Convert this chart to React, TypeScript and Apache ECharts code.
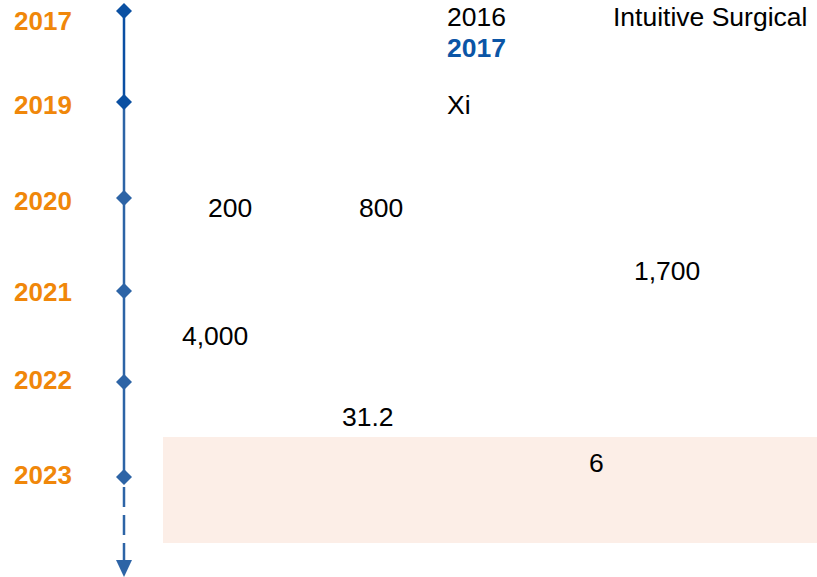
import React, { useEffect, useRef } from "react";
import * as echarts from "echarts";

// ---- data ----
const years = ["2017", "2019", "2020", "2021", "2022", "2023"];
const notes = ["2016", "2017", "Intuitive Surgical", "Xi", "200", "800", "1,700", "4,000", "31.2", "6"];
const noteHighlight = [false, true, false, false, false, false, false, false, false, false];

// ---- layout (pixel space of the 817x577 canvas) ----
const W = 817;
const H = 577;
const axisX = 124;
const rowY = [11, 102, 198, 291, 382, 477];
const yearLabelX = 14;
const yearLabelY = [21, 105, 201, 292, 380, 475];
const notePos: [number, number][] = [
  [447, 17],
  [447, 48],
  [613, 17],
  [447, 105],
  [208, 208],
  [359, 208],
  [634, 271],
  [182, 336],
  [342, 417],
  [589, 463],
];
const band = { x0: 163, x1: 817, y0: 437, y1: 543 };
const dashStart = 487;
const dashEnd = 562;
const arrowY = 568.5;

const ORANGE = "#F0870A";
const DARK_BLUE = "#0A4FA3";
const MID_BLUE = "#2D64A6";
const FONT = "Liberation Sans, Arial, sans-serif";

export default function App() {
  const ref = useRef<HTMLDivElement>(null);

  useEffect(() => {
    if (!ref.current) return;
    const chart = echarts.init(ref.current, undefined, { renderer: "svg" });
    const option: any = {
      animation: false,
      grid: { left: 0, right: 0, top: 0, bottom: 0 },
      xAxis: { type: "value", min: 0, max: W, show: false },
      yAxis: { type: "value", min: 0, max: H, inverse: true, show: false },
      series: [
        {
          type: "line",
          silent: true,
          symbol: "none",
          data: [],
          markArea: {
            silent: true,
            itemStyle: { color: "#FCEEE7", opacity: 1 },
            data: [[{ coord: [band.x0, band.y0] }, { coord: [band.x1, band.y1] }]],
          },
          z: 1,
        },
        {
          type: "line",
          symbol: "none",
          data: [
            [axisX, rowY[0]],
            [axisX, rowY[1]],
          ],
          lineStyle: { color: DARK_BLUE, width: 2.5, opacity: 1 },
          z: 2,
        },
        {
          type: "line",
          symbol: "none",
          data: [
            [axisX, rowY[1]],
            [axisX, rowY[rowY.length - 1]],
          ],
          lineStyle: { color: MID_BLUE, width: 2.5, opacity: 1 },
          z: 2,
        },
        {
          type: "line",
          symbol: "none",
          data: [
            [axisX, dashStart],
            [axisX, dashEnd],
          ],
          lineStyle: { color: MID_BLUE, width: 2.5, type: [20, 8], opacity: 1 },
          z: 2,
        },
        {
          type: "scatter",
          symbol: "triangle",
          symbolRotate: 180,
          symbolSize: [16, 17],
          data: [[axisX, arrowY]],
          itemStyle: { color: MID_BLUE, opacity: 1 },
          z: 3,
        },
        {
          type: "scatter",
          symbol: "diamond",
          symbolSize: [16, 16],
          data: years.map((y, i) => ({
            value: [axisX, rowY[i]],
            name: y,
            itemStyle: { color: i < 2 ? "#0B50A2" : MID_BLUE, opacity: 1 },
          })),
          z: 4,
        },
        {
          type: "scatter",
          symbolSize: 0,
          itemStyle: { opacity: 1 },
          data: years.map((y, i) => ({ value: [yearLabelX, yearLabelY[i]], name: y })),
          label: {
            show: true,
            position: "right",
            distance: 0,
            formatter: (p: any) => p.name,
            color: ORANGE,
            opacity: 1,
            fontWeight: "bold",
            fontSize: 26,
            fontFamily: FONT,
          },
          z: 5,
        },
        {
          type: "scatter",
          symbolSize: 0,
          itemStyle: { opacity: 1 },
          data: notes.map((t, i) => ({
            value: notePos[i],
            name: t,
            label: noteHighlight[i]
              ? { color: "#0B55A6", fontWeight: "bold" }
              : { color: "#000000", fontWeight: "normal" },
          })),
          label: {
            show: true,
            position: "right",
            distance: 0,
            formatter: (p: any) => p.name,
            opacity: 1,
            fontSize: 26.5,
            fontFamily: FONT,
          },
          z: 5,
        },
      ],
    };
    chart.setOption(option);
    return () => chart.dispose();
  }, []);

  return (
    <div
      ref={ref}
      style={{ position: "fixed", left: 0, top: 0, width: W, height: H, background: "#ffffff" }}
    />
  );
}
